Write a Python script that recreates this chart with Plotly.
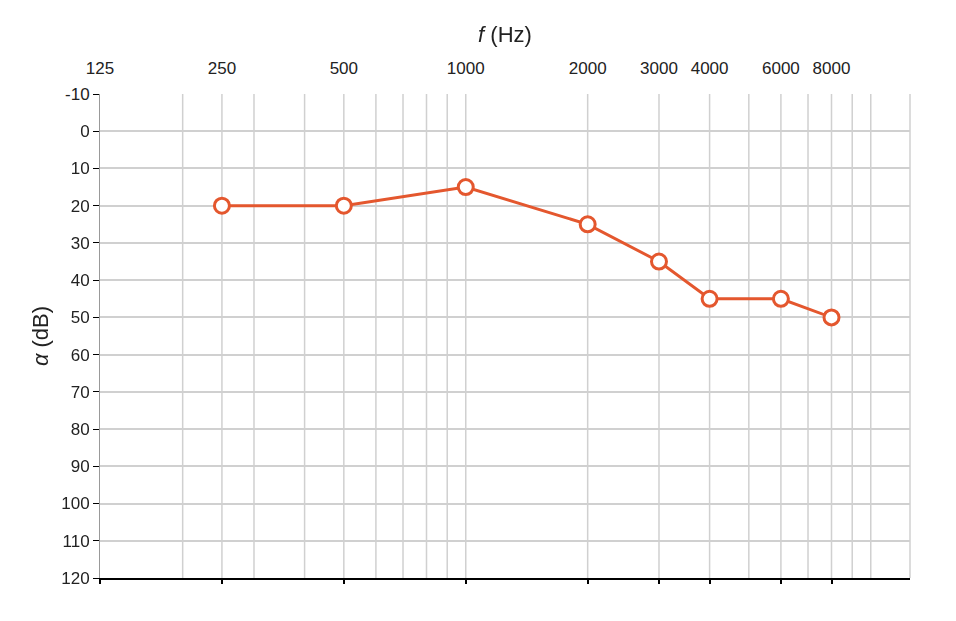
import plotly.graph_objects as go
import numpy as np

freqs = [250, 500, 1000, 2000, 3000, 4000, 6000, 8000]
levels = [20, 20, 15, 25, 35, 45, 45, 50]
xtick_vals = [125, 250, 500, 1000, 2000, 3000, 4000, 6000, 8000]
minor_vals = [200, 300, 400, 600, 700, 800, 900, 5000, 7000, 9000, 10000]
ytick_vals = list(range(-10, 121, 10))

fig = go.Figure()
fig.add_trace(go.Scatter(x=freqs, y=levels, mode="lines+markers",
    line=dict(color="#e4572e", width=3),
    marker=dict(size=15, color="white", line=dict(color="#e4572e", width=3)),
    xaxis="x2"))
fig.add_trace(go.Scatter(x=freqs, y=levels, mode="markers", opacity=0,
    showlegend=False, hoverinfo="skip"))

grid = [dict(type="line", xref="x", yref="paper", x0=v, x1=v, y0=0, y1=1,
             line=dict(color="#d0d0d0", width=1.5), layer="below")
        for v in xtick_vals[1:] + minor_vals]
fig.update_layout(
    width=956, height=621, paper_bgcolor="white", plot_bgcolor="white",
    margin=dict(l=92, r=54, t=86, b=51), showlegend=False,
    font=dict(family="Arial, Liberation Sans", size=17, color="#222"),
    shapes=grid,
    xaxis=dict(type="log", range=[np.log10(125), np.log10(12500)],
               showticklabels=False, showgrid=False, tickvals=xtick_vals,
               ticks="outside", ticklen=4, tickcolor="black", tickwidth=2,
               showline=True, linecolor="black", linewidth=1.5),
    xaxis2=dict(type="log", range=[np.log10(125), np.log10(12500)],
                overlaying="x", side="top", tickvals=xtick_vals,
                ticktext=[str(v) for v in xtick_vals], showgrid=False,
                ticks="outside", ticklen=12, tickcolor="rgba(0,0,0,0)",
                title=dict(text="<i>f</i> (Hz)", font=dict(size=22), standoff=10)),
    yaxis=dict(range=[120, -10], tickvals=ytick_vals,
               ticktext=["-10"] + [str(v) for v in ytick_vals[1:]],
               showgrid=True, gridcolor="#d0d0d0", gridwidth=1.5, zeroline=False,
               ticks="outside", ticklen=6, tickcolor="black",
               showline=True, linecolor="#999", linewidth=1,
               title=dict(text="<i>α</i> (dB)", font=dict(size=22), standoff=6)),
)
fig.add_shape(type="line", xref="paper", yref="paper", x0=1, x1=1, y0=0, y1=1,
              line=dict(color="#d0d0d0", width=1.5), layer="below")
fig.write_html("out.html")
